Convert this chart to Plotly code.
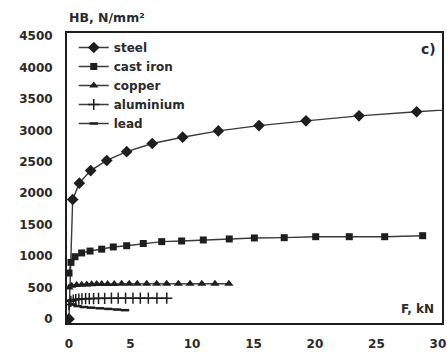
import plotly.graph_objects as go

# Brinell hardness HB (N/mm²) against indentation load F (kN)
steel_f = [0, 0.30, 0.84, 1.76, 3.07, 4.69, 6.77, 9.24, 12.14, 15.45, 19.27, 23.58, 28.27, 33.4]
steel_hb = [0, 1900, 2160, 2360, 2520, 2660, 2790, 2890, 2990, 3075, 3150, 3230, 3295, 3360]

cast_iron_f = [0, 0.16, 0.49, 1.03, 1.71, 2.66, 3.6, 4.69, 6.04, 7.54, 9.16, 10.92, 13.03,
               15.07, 17.5, 20.06, 22.79, 25.67, 28.76]
cast_iron_hb = [730, 900, 990, 1050, 1080, 1110, 1145, 1165, 1200, 1230, 1240, 1256, 1272,
                1288, 1293, 1308, 1308, 1308, 1324]

copper_f = [0, 0.22, 0.62, 1.03, 1.44, 1.84, 2.25, 2.66, 3.14, 3.68, 4.28, 4.9, 5.55, 6.32,
            7.13, 7.94, 8.89, 9.84, 10.8, 11.87, 13.0]
copper_hb = [500, 530, 540, 545, 550, 552, 555, 555, 558, 558, 560, 560, 560, 560,
             560, 560, 560, 560, 560, 560, 560]

aluminium_f = [0, 0.15, 0.35, 0.55, 0.8, 1.05, 1.35, 1.65, 2.0, 2.4, 2.9, 3.45, 4.0, 4.6,
               5.2, 5.8, 6.45, 7.15, 7.95]
aluminium_hb = [230, 280, 300, 310, 315, 320, 322, 325, 325, 328, 328, 330, 330, 330,
                330, 330, 330, 330, 330]

lead_f = [0, 0.3, 0.7, 1.2, 1.8, 2.5, 3.2, 3.9, 4.55]
lead_hb = [290, 230, 205, 190, 180, 170, 160, 150, 140]

x_ticks = [0, 5, 10, 15, 20, 25, 30]
y_ticks = [0, 500, 1000, 1500, 2000, 2500, 3000, 3500, 4000, 4500]

INK = "#1e1e1e"
LINE = "#3a3a3a"
TEXT = "#2b2b2b"
FONT = dict(family="DejaVu Sans", size=12, color=TEXT, weight="bold")

series = [
    ("steel", steel_f, steel_hb, dict(symbol="diamond", size=9, color=INK)),
    ("cast iron", cast_iron_f, cast_iron_hb, dict(symbol="square", size=7, color=INK)),
    ("copper", copper_f, copper_hb, dict(symbol="triangle-up", size=8, color=INK)),
    ("aluminium", aluminium_f, aluminium_hb,
     dict(symbol="cross-thin-open", size=8, color=INK, line=dict(width=1.5, color=INK))),
    ("lead", lead_f, lead_hb,
     dict(symbol="line-ew-open", size=6, color=INK, line=dict(width=2.5, color=INK))),
]

fig = go.Figure()
for name, fx, hb, marker in series:
    fig.add_trace(go.Scatter(
        x=fx, y=hb, name=name, mode="lines+markers",
        line=dict(color=LINE, width=1.4),
        marker=marker,
        cliponaxis=True,
    ))

axis_common = dict(
    showgrid=False, zeroline=False, showline=True, mirror=True,
    linecolor=INK, linewidth=2, ticks="", tickfont=FONT, automargin=False,
)

fig.update_xaxes(range=[-0.163, 30.33], tickvals=x_ticks, ticklabelstandoff=9, **axis_common)
fig.update_yaxes(range=[-64, 4547], tickvals=y_ticks, ticklabelstandoff=10, **axis_common)

fig.update_layout(
    width=447, height=352,
    margin=dict(l=67, r=5, t=33, b=29),
    plot_bgcolor="white", paper_bgcolor="white",
    showlegend=True,
    legend=dict(
        x=0.018, y=1.0, xanchor="left", yanchor="top",
        bgcolor="rgba(0,0,0,0)", borderwidth=0,
        font=dict(family="DejaVu Sans", size=12, color=TEXT, weight="bold"),
        tracegroupgap=0, itemwidth=30,
    ),
    annotations=[
        dict(text="HB, N/mm²", xref="paper", yref="paper", x=0.0, y=1.0,
             xanchor="left", yanchor="bottom", yshift=6, showarrow=False,
             font=dict(family="DejaVu Sans", size=12.5, color=TEXT, weight="bold")),
        dict(text="c)", xref="paper", yref="paper", x=1.0, y=1.0,
             xanchor="right", yanchor="top", xshift=-4, yshift=-6, showarrow=False,
             font=dict(family="DejaVu Sans", size=14, color=TEXT, weight="bold")),
        dict(text="F, kN", xref="paper", yref="paper", x=1.0, y=0.0,
             xanchor="right", yanchor="bottom", xshift=-6, yshift=5, showarrow=False,
             font=dict(family="DejaVu Sans", size=12, color=TEXT, weight="bold")),
    ],
)

fig.write_html("out.html")
